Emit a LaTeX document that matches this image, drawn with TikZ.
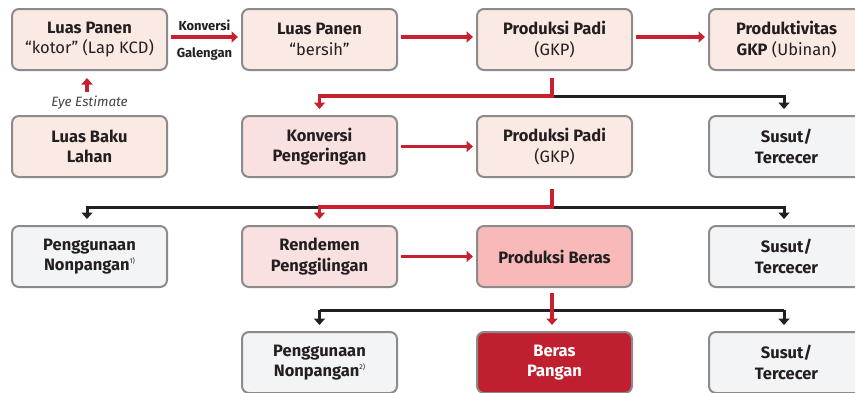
\documentclass[tikz,border=0pt]{standalone}
\usepackage{fontspec}
\setmainfont{Fira Sans}
\usetikzlibrary{arrows.meta}
\definecolor{peach}{HTML}{FBEAE3}
\definecolor{pinkl}{HTML}{F9E1E1}
\definecolor{pinkm}{HTML}{F9B9B8}
\definecolor{redd}{HTML}{C01F2F}
\definecolor{grayf}{HTML}{F3F4F6}
\definecolor{bord}{HTML}{8B8B8B}
\definecolor{redl}{HTML}{C8202F}
\definecolor{txt}{HTML}{231F20}
\definecolor{eyec}{HTML}{444444}
\newcommand{\supa}[1]{\raisebox{7pt}{\fontsize{7}{7}\selectfont #1}}
\begin{document}
\begin{tikzpicture}[x=1pt,y=-1pt,
  box/.style={draw=bord, line width=2pt, rounded corners=7pt,
    minimum width=155pt, minimum height=61pt, align=center,
    font=\fontsize{16.5}{20.5}\selectfont, text=txt, inner sep=0pt},
  peachbox/.style={box, fill=peach},
  pinkbox/.style={box, fill=pinkl},
  graybox/.style={box, fill=grayf},
  redline/.style={draw=redl, line width=3.6pt, -{Triangle[width=11pt,length=6.5pt]}},
  blackline/.style={draw=txt, line width=3pt, -{Triangle[width=11pt,length=6.5pt]}},
  lbl/.style={font=\bfseries\fontsize{13}{15}\selectfont, text=txt, inner sep=0pt},
  eyelbl/.style={font=\itshape\fontsize{13.5}{15}\selectfont, text=eyec, inner sep=0pt}
]
\clip (0,0) rectangle (855,392);
\fill[white] (0,0) rectangle (855,392);

% row 1
\node[peachbox] (lp1) at (89.5,39.5) {\textbf{Luas Panen}\\``kotor'' (Lap KCD)};
\node[peachbox] (lp2) at (319.5,39.5) {\textbf{Luas Panen}\\``bersih''};
\node[peachbox] (pp1) at (554.5,39.5) {\textbf{Produksi Padi}\\(GKP)};
\node[peachbox] (pg)  at (786.5,39.5) {\textbf{Produktivitas}\\\textbf{GKP} (Ubinan)};

% row 2
\node[peachbox] (lb)  at (89.5,146.5) {\textbf{Luas Baku}\\\textbf{Lahan}};
\node[pinkbox]  (kp)  at (319.5,146.5) {\textbf{Konversi}\\\textbf{Pengeringan}};
\node[peachbox] (pp2) at (554.5,146.5) {\textbf{Produksi Padi}\\(GKP)};
\node[graybox]  (st1) at (786.5,146.5) {\textbf{Susut/}\\\textbf{Tercecer}};

% row 3
\node[graybox]  (pn1) at (89.5,256.5) {\textbf{Penggunaan}\\\textbf{Nonpangan}\supa{1)}};
\node[pinkbox]  (rp)  at (319.5,256.5) {\textbf{Rendemen}\\\textbf{Penggilingan}};
\node[box, fill=pinkm] (pb) at (554.5,256.5) {\textbf{Produksi Beras}};
\node[graybox]  (st2) at (786.5,256.5) {\textbf{Susut/}\\\textbf{Tercecer}};

% row 4
\node[graybox]  (pn2) at (319.5,362.5) {\textbf{Penggunaan}\\\textbf{Nonpangan}\supa{2)}};
\node[box, fill=redd, text=white] (bp) at (554.5,362.5) {\textbf{Beras}\\\textbf{Pangan}};
\node[graybox]  (st3) at (786.5,362.5) {\textbf{Susut/}\\\textbf{Tercecer}};

% junctions
\coordinate (j1) at (0,96);
\coordinate (j2) at (0,207);
\coordinate (j3) at (0,310);

% row 1 horizontal
\draw[redline, shorten <=3pt, shorten >=3pt] ([yshift=2.5pt]lp1.east) --
  node[lbl, above=4pt] {Konversi} node[lbl, below=9pt] {Galengan}
  ([yshift=2.5pt]lp2.west);
\draw[redline, shorten <=3pt, shorten >=3pt] ([yshift=2.5pt]lp2.east) -- ([yshift=2.5pt]pp1.west);
\draw[redline, shorten <=3pt, shorten >=3pt] ([yshift=2.5pt]pp1.east) -- ([yshift=2.5pt]pg.west);

% eye estimate
\node[eyelbl] (eye) at (89.5,102.5) {Eye Estimate};
\draw[redline, shorten <=4pt, shorten >=7pt] ([xshift=-2.5pt]eye.north) -- ([xshift=-2.5pt]lp1.south);

% row 1 -> row 2
\draw[blackline, shorten >=6pt] ([xshift=-2.5pt]pp1.south |- j1) -- ([xshift=-2.5pt]st1.north |- j1) -- ([xshift=-2.5pt]st1.north);
\draw[redline, shorten <=7pt, shorten >=6pt] ([xshift=-2.5pt]pp1.south) -- ([xshift=-2.5pt]pp1.south |- j1) -- (kp.north |- j1) -- (kp.north);

% row 2 horizontal
\draw[redline, shorten <=3pt, shorten >=3pt] (kp.east) -- (pp2.west);

% row 2 -> row 3
\draw[blackline, shorten >=6pt] (rp.north |- j2) -- ([xshift=-2.5pt]pn1.north |- j2) -- ([xshift=-2.5pt]pn1.north);
\draw[blackline, shorten >=6pt] ([xshift=-2.5pt]pp2.south |- j2) -- ([xshift=-2.5pt]st2.north |- j2) -- ([xshift=-2.5pt]st2.north);
\draw[redline, shorten <=11pt, shorten >=6pt] ([xshift=-2.5pt]pp2.south) -- ([xshift=-2.5pt]pp2.south |- j2) -- (rp.north |- j2) -- (rp.north);

% row 3 horizontal
\draw[redline, shorten <=3pt, shorten >=3pt] (rp.east) -- (pb.west);

% row 3 -> row 4
\draw[blackline, shorten >=6pt] (pn2.north |- j3) -- (pn2.north);
\draw[draw=txt, line width=3pt] (pn2.north |- j3) -- ([xshift=-2.5pt]st3.north |- j3);
\draw[blackline, shorten >=6pt] ([xshift=-2.5pt]st3.north |- j3) -- ([xshift=-2.5pt]st3.north);
\draw[redline, shorten <=5pt, shorten >=6pt] ([xshift=-2.5pt]pb.south) -- ([xshift=-2.5pt]bp.north);
\end{tikzpicture}
\end{document}
